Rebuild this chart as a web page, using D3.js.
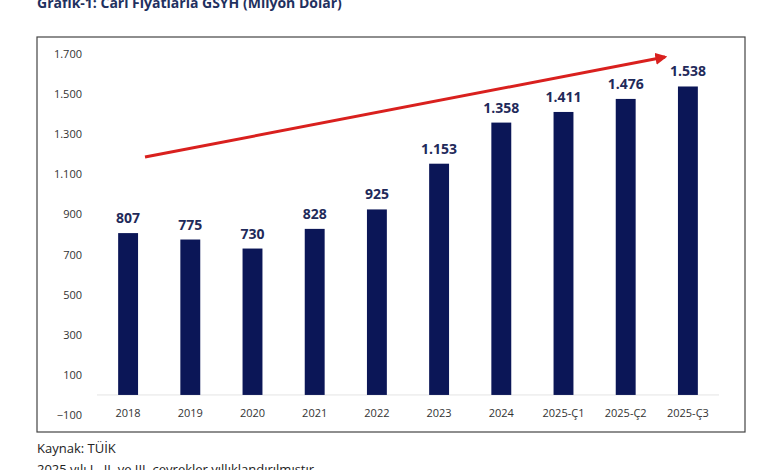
<!DOCTYPE html>
<html>
<head>
<meta charset="utf-8">
<script src="https://cdn.jsdelivr.net/npm/d3@7"></script>
<style>
    body { margin: 0; background: #fff; }
    text { font-family: "Open Sans", "Liberation Sans", sans-serif; }
</style>
</head>
<body>
<svg id="chart" width="780" height="470"></svg>
<script>
    // veriler
    var categories = ["2018", "2019", "2020", "2021", "2022", "2023", "2024", "2025-Ç1", "2025-Ç2", "2025-Ç3"];
    var values = [807, 775, 730, 828, 925, 1153, 1358, 1411, 1476, 1538];
    var labels = ["807", "775", "730", "828", "925", "1.153", "1.358", "1.411", "1.476", "1.538"];
    var yTicks = [-100, 100, 300, 500, 700, 900, 1100, 1300, 1500, 1700];

    var svg = d3.select("#chart");
    var navy = "#0b1657";
    var fmt = function (d) { return d3.format(",")(d).replace(/,/g, "."); };

    svg.append("text").attr("x", 37).attr("y", 8)
        .style("font-size", "14px").style("font-weight", "bold").attr("fill", "#1f3160")
        .text("Grafik-1: Cari Fiyatlarla GSYH (Milyon Dolar)");

    svg.append("rect").attr("x", 37).attr("y", 37).attr("width", 708).attr("height", 395)
        .attr("fill", "none").attr("stroke", "#444").attr("stroke-width", 1.2);

    var y = d3.scaleLinear().domain([-100, 1700]).range([415, 54]);
    var x = d3.scaleBand().domain(categories).range([97, 719]).paddingInner(0.68).paddingOuter(0.34);

    svg.append("g").selectAll("text").data(yTicks).join("text")
        .attr("x", 82).attr("y", function (d) { return y(d) + 4; })
        .attr("text-anchor", "end").style("font-size", "11px").attr("fill", "#333")
        .text(fmt);

    svg.append("line").attr("x1", 97).attr("x2", 719).attr("y1", y(0)).attr("y2", y(0))
        .attr("stroke", "#e4e4e4");

    svg.append("g").selectAll("rect").data(values).join("rect")
        .attr("x", function (d, i) { return x(categories[i]); })
        .attr("width", x.bandwidth())
        .attr("y", function (d) { return y(d); })
        .attr("height", function (d) { return y(0) - y(d); })
        .attr("fill", navy);

    svg.append("g").selectAll("text").data(values).join("text")
        .attr("x", function (d, i) { return x(categories[i]) + x.bandwidth() / 2; })
        .attr("y", function (d) { return y(d) - 10; })
        .attr("text-anchor", "middle").style("font-size", "14px").style("font-weight", "bold")
        .attr("fill", "#1f2a5a")
        .text(function (d, i) { return labels[i]; });

    svg.append("g").selectAll("text").data(categories).join("text")
        .attr("x", function (d) { return x(d) + x.bandwidth() / 2; })
        .attr("y", 417).attr("text-anchor", "middle").style("font-size", "11px").attr("fill", "#333")
        .text(function (d) { return d; });

    // trend oku
    svg.append("defs").append("marker").attr("id", "ok")
        .attr("viewBox", "0 0 10 10").attr("refX", 8).attr("refY", 5)
        .attr("markerWidth", 4).attr("markerHeight", 4).attr("orient", "auto")
        .append("path").attr("d", "M0,0L10,5L0,10z").attr("fill", "#d9201e");
    svg.append("line").attr("x1", 145).attr("y1", 157).attr("x2", 665).attr("y2", 57)
        .attr("stroke", "#d9201e").attr("stroke-width", 3).attr("marker-end", "url(#ok)");

    svg.append("text").attr("x", 37).attr("y", 453).style("font-size", "13px").attr("fill", "#222")
        .text("Kaynak: TÜİK");
    svg.append("text").attr("x", 37).attr("y", 474).style("font-size", "13px").attr("fill", "#222")
        .text("2025 yılı I., II. ve III. çeyrekler yıllıklandırılmıştır");
</script>
</body>
</html>
